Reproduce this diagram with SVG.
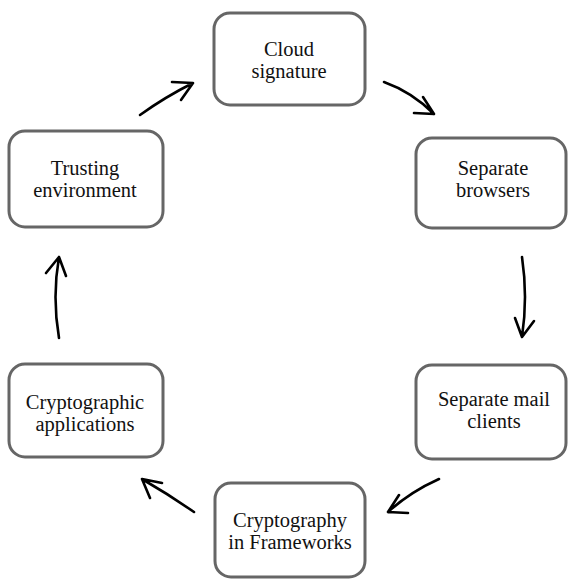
<svg xmlns="http://www.w3.org/2000/svg" width="568" height="580" viewBox="0 0 568 580">
<style>
.box{fill:#fff;stroke:#666;stroke-width:3}
.lbl{font-family:"Liberation Serif","Times New Roman",serif;font-size:20.5px;fill:#111;text-anchor:middle}
.arr{fill:none;stroke:#000;stroke-width:2.6;stroke-linecap:round;stroke-linejoin:round}
</style>
<rect width="568" height="580" fill="#fff"/>
<g id="cloud"><rect class="box" x="214" y="13" width="151" height="92" rx="16"/><text class="lbl" x="289" y="56">Cloud</text><text class="lbl" x="289" y="78">signature</text></g>
<g id="browsers"><rect class="box" x="416" y="138" width="150" height="90" rx="16"/><text class="lbl" x="493" y="175">Separate</text><text class="lbl" x="493" y="197">browsers</text></g>
<g id="mail"><rect class="box" x="416" y="365" width="150" height="94" rx="16"/><text class="lbl" x="494" y="406">Separate mail</text><text class="lbl" x="494" y="428">clients</text></g>
<g id="frameworks"><rect class="box" x="215" y="483" width="150" height="94" rx="16"/><text class="lbl" x="290" y="527">Cryptography</text><text class="lbl" x="290" y="549">in Frameworks</text></g>
<g id="applications"><rect class="box" x="9" y="364" width="154" height="93" rx="16"/><text class="lbl" x="85" y="409">Cryptographic</text><text class="lbl" x="85" y="431">applications</text></g>
<g id="trusting"><rect class="box" x="9" y="131" width="154" height="96" rx="16"/><text class="lbl" x="85" y="175">Trusting</text><text class="lbl" x="85" y="197">environment</text></g>
<g id="connectors">
<path class="arr" d="M140,115 Q165,97 193,83 M172,82 L193,83 L181,100"/>
<path class="arr" d="M384,82 Q412,92 434,114 M414,113 L434,114 L423,97"/>
<path class="arr" d="M522,257 Q528,297 522,337 M515,318 L522,337 L534,321"/>
<path class="arr" d="M439,479 Q410,492 388,512 M399,495 L388,512 L408,513"/>
<path class="arr" d="M194,512 Q168,494 142,479 M162,483 L142,479 L150,498"/>
<path class="arr" d="M59,338 Q52,297 59,257 M46,273 L59,257 L66,276"/>
</g>
</svg>
